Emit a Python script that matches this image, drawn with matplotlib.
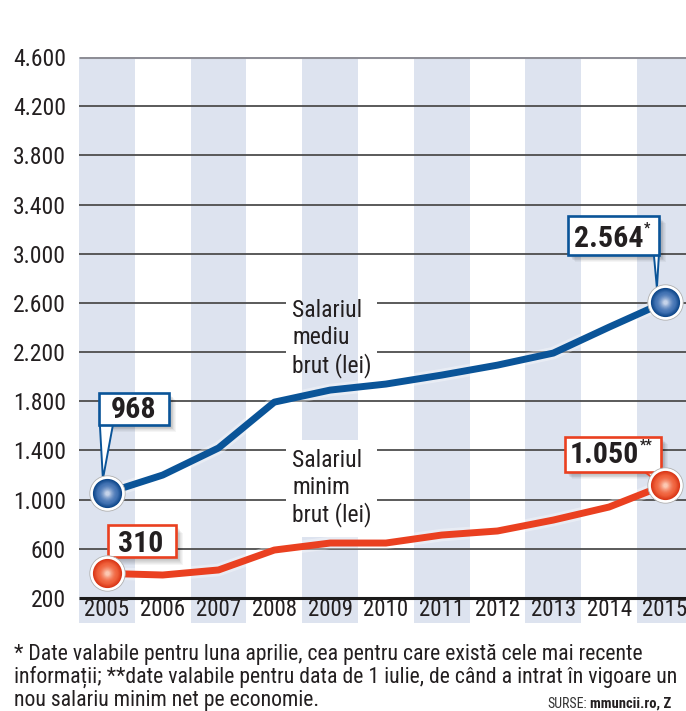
import numpy as np
import matplotlib
matplotlib.use("Agg")
import matplotlib.pyplot as plt
import matplotlib.transforms as mtransforms
from matplotlib.patches import Rectangle, Polygon
from matplotlib.lines import Line2D
from matplotlib.colors import to_rgb
from matplotlib import font_manager as fm
import matplotlib.patheffects as pe

# ---------------- data ----------------
years = [2005, 2006, 2007, 2008, 2009, 2010, 2011, 2012, 2013, 2014, 2015]
salariul_mediu_brut = [1054, 1200, 1420, 1793, 1891, 1940, 2013, 2094, 2192, 2403, 2607]
salariul_minim_brut = [400, 387, 428, 590, 647, 647, 712, 745, 834, 940, 1119]
y_ticks = [200, 600, 1000, 1400, 1800, 2200, 2600, 3000, 3400, 3800, 4200, 4600]
y_tick_labels = ["200", "600", "1.000", "1.400", "1.800", "2.200", "2.600",
                 "3.000", "3.400", "3.800", "4.200", "4.600"]
year_labels = [str(y) for y in years]
label_mediu = ["Salariul", "mediu", "brut (lei)"]
label_minim = ["Salariul", "minim", "brut (lei)"]
callout_mediu_start = "968"
callout_mediu_end = "2.564"
callout_minim_start = "310"
callout_minim_end = "1.050"
footnote = ["* Date valabile pentru luna aprilie, cea pentru care există cele mai recente",
            "informații; **date valabile pentru data de 1 iulie, de când a intrat în vigoare un",
            "nou salariu minim net pe economie."]
source_label = "SURSE:"
source_text = "mmuncii.ro, Z"

# ---------------- fonts ----------------
names = {f.name for f in fm.fontManager.ttflist}
cond = next((n for n in ["Liberation Sans Narrow", "Roboto Condensed",
                         "Open Sans Condensed", "DejaVu Sans Condensed"] if n in names),
            "Liberation Sans")
FAM = [cond, "DejaVu Sans"]
plt.rcParams["font.family"] = FAM

TXT = "#231f20"
BLUE = "#0a5498"
RED = "#ea4020"
BAND = "#dde3ef"
GRID = "#4d4d4d"

W, H = 686, 711
fig = plt.figure(figsize=(W / 100, H / 100), dpi=100)
ax = fig.add_axes([79 / W, 1 - 623 / H, 1 - 79 / W, (623 - 57) / H])
ax.set_xlim(2004.5, 2004.5 + 607 / 55.8)
ax.set_ylim(200 - 25 * 4400 / 541, 4600)
for s in ax.spines.values():
    s.set_visible(False)
ax.set_xticks([])
ax.set_yticks(y_ticks)
ax.set_yticklabels(y_tick_labels, fontsize=17, color=TXT)
ax.tick_params(axis="y", length=0, pad=9.4)
ax.set_facecolor("white")

px = mtransforms.Affine2D().scale(1 / W, -1 / H).translate(0, 1) + fig.transFigure
xpx = mtransforms.blended_transform_factory(ax.transData, px)

# column bands
for yr in years[::2]:
    ax.axvspan(yr - 0.5, yr + 0.5, color=BAND, zorder=0, lw=0)

# gridlines (broken behind the series labels)
x0, x1 = ax.get_xlim()
brk = (2008.21, 2009.84)
broken = [2600, 2200, 1400, 1000]
for v in y_ticks[1:-1]:
    if v in broken:
        ax.plot([x0, brk[0]], [v, v], color=GRID, lw=1.3, zorder=1, solid_capstyle="butt")
        ax.plot([brk[1], x1], [v, v], color=GRID, lw=1.3, zorder=1, solid_capstyle="butt")
    else:
        ax.plot([x0, x1], [v, v], color=GRID, lw=1.3, zorder=1, solid_capstyle="butt")
ax.plot([x0, x1], [y_ticks[-1]] * 2, color="#8e8e96", lw=2.2, zorder=1, solid_capstyle="butt")
ax.plot([x0, x1], [y_ticks[0]] * 2, color="#1a1a1a", lw=2.2, zorder=1.5, solid_capstyle="butt")

# year labels
for yr, lab in zip(years, year_labels):
    ax.text(yr, 609, lab, transform=xpx, ha="center", va="center", fontsize=16.5, color=TXT, zorder=2)

# series labels
ax.add_patch(Rectangle((287, 440), 90, 97, transform=px, facecolor="white", edgecolor="none", zorder=1.8))
for i, t in enumerate(label_mediu):
    ax.text(292, 317 + 27.5 * i, t, transform=px, ha="left", va="baseline", fontsize=17, color=TXT, zorder=2)
for i, t in enumerate(label_minim):
    ax.text(292, 467 + 27 * i, t, transform=px, ha="left", va="baseline", fontsize=17, color=TXT, zorder=2)

# lines
halo = [pe.Stroke(linewidth=9, foreground="white", alpha=0.35), pe.Normal()]
ax.plot(years, salariul_mediu_brut, color=BLUE, lw=5, zorder=3, solid_joinstyle="round", path_effects=halo)
ax.plot(years, salariul_minim_brut, color=RED, lw=5, zorder=3, solid_joinstyle="round", path_effects=halo)


def rel(x, y):
    return mtransforms.Affine2D().scale(fig.dpi / 100.0) + mtransforms.ScaledTranslation(x, y, ax.transData)


def callout(x, y, text, sup, color, box, tail, tx, ty, sxy):
    t = rel(x, y)
    l, r, b, tp = box
    for i in range(1, 9):
        ax.add_patch(Rectangle((l + i * 0.9, b - i * 0.9), r - l, tp - b, transform=t,
                               facecolor="black", alpha=0.04, edgecolor="none", zorder=4, clip_on=False))
    ax.add_patch(Polygon(tail, closed=True, transform=t, facecolor="white", edgecolor="none", zorder=5))
    ax.add_line(Line2D([tail[0][0], tail[2][0], tail[1][0]], [tail[0][1], tail[2][1], tail[1][1]],
                       transform=t, color=color, lw=1.4, zorder=5.1))
    ax.add_patch(Rectangle((l, b), r - l, tp - b, transform=t, facecolor="white",
                           edgecolor=color, lw=1.9, zorder=6, clip_on=False))
    ax.text(tx, ty, text, transform=t, ha="center", va="baseline", fontsize=21.5,
            fontweight="bold", color=TXT, zorder=7, clip_on=False)
    if sup:
        ax.text(sxy[0], sxy[1], sup, transform=t, ha="left", va="top", fontsize=10,
                fontweight="bold", color=TXT, zorder=7, clip_on=False)


callout(years[0], salariul_mediu_brut[0], callout_mediu_start, "", BLUE,
        (-8, 62, 68, 100), [(-7, 68), (6, 68), (-4, 14)], 27, 75, None)
callout(years[-1], salariul_mediu_brut[-1], callout_mediu_end, "*", BLUE,
        (-97, -6, 47, 86), [(-11, 47), (-6, 47), (-8, 14)], -56, 55, (-21, 80))
callout(years[0], salariul_minim_brut[0], callout_minim_start, "", RED,
        (1, 69, 16, 48), [(1, 16), (10, 16), (0, 6)], 34, 21, None)
callout(years[-1], salariul_minim_brut[-1], callout_minim_end, "**", RED,
        (-100, -4, 13, 48), [(-20, 13), (-8, 13), (-8, 4)], -61, 22, (-25, 46))


def sphere(xs, ys, edge, mid, light):
    ax.scatter(xs, ys, s=25.5 ** 2, color="white", edgecolors="#b0b0b0", linewidths=0.6, zorder=8, clip_on=False)
    n = 18
    ce, cm, cl = np.array(to_rgb(edge)), np.array(to_rgb(mid)), np.array(to_rgb(light))
    for k in range(n):
        f = k / (n - 1)
        d = 21 * (1 - f) + 3 * f
        if f < 0.35:
            col = ce + (cm - ce) * (f / 0.35)
        else:
            col = cm + (cl - cm) * ((f - 0.35) / 0.65) ** 1.6
        ax.scatter(xs, ys, s=d ** 2, color=tuple(col), linewidths=0, zorder=8.1 + k * 0.01, clip_on=False)


sphere([years[0], years[-1]], [salariul_mediu_brut[0], salariul_mediu_brut[-1]], "#0d4689", "#4474b4", "#c5d3ea")
sphere([years[0], years[-1]], [salariul_minim_brut[0], salariul_minim_brut[-1]], "#d93616", "#f0623c", "#fcc8b2")

# footnote
base = [660, 683, 706]
fts = [fig.text(14 / W, 1 - b / H, s, ha="left", va="baseline", fontsize=15, color=TXT) for s, b in zip(footnote, base)]
r = fig.canvas.get_renderer()
wid = fts[0].get_window_extent(r).width
fs = 15 * 628 / wid
for t in fts:
    t.set_fontsize(fs)
fig.text(547 / W, 1 - 708 / H, source_label, ha="left", va="baseline", fontsize=10, color="#333333")
fig.text(590 / W, 1 - 708 / H, source_text, ha="left", va="baseline", fontsize=10.5, fontweight="bold", color=TXT)

fig.savefig("out.png", dpi=100, facecolor="white")
